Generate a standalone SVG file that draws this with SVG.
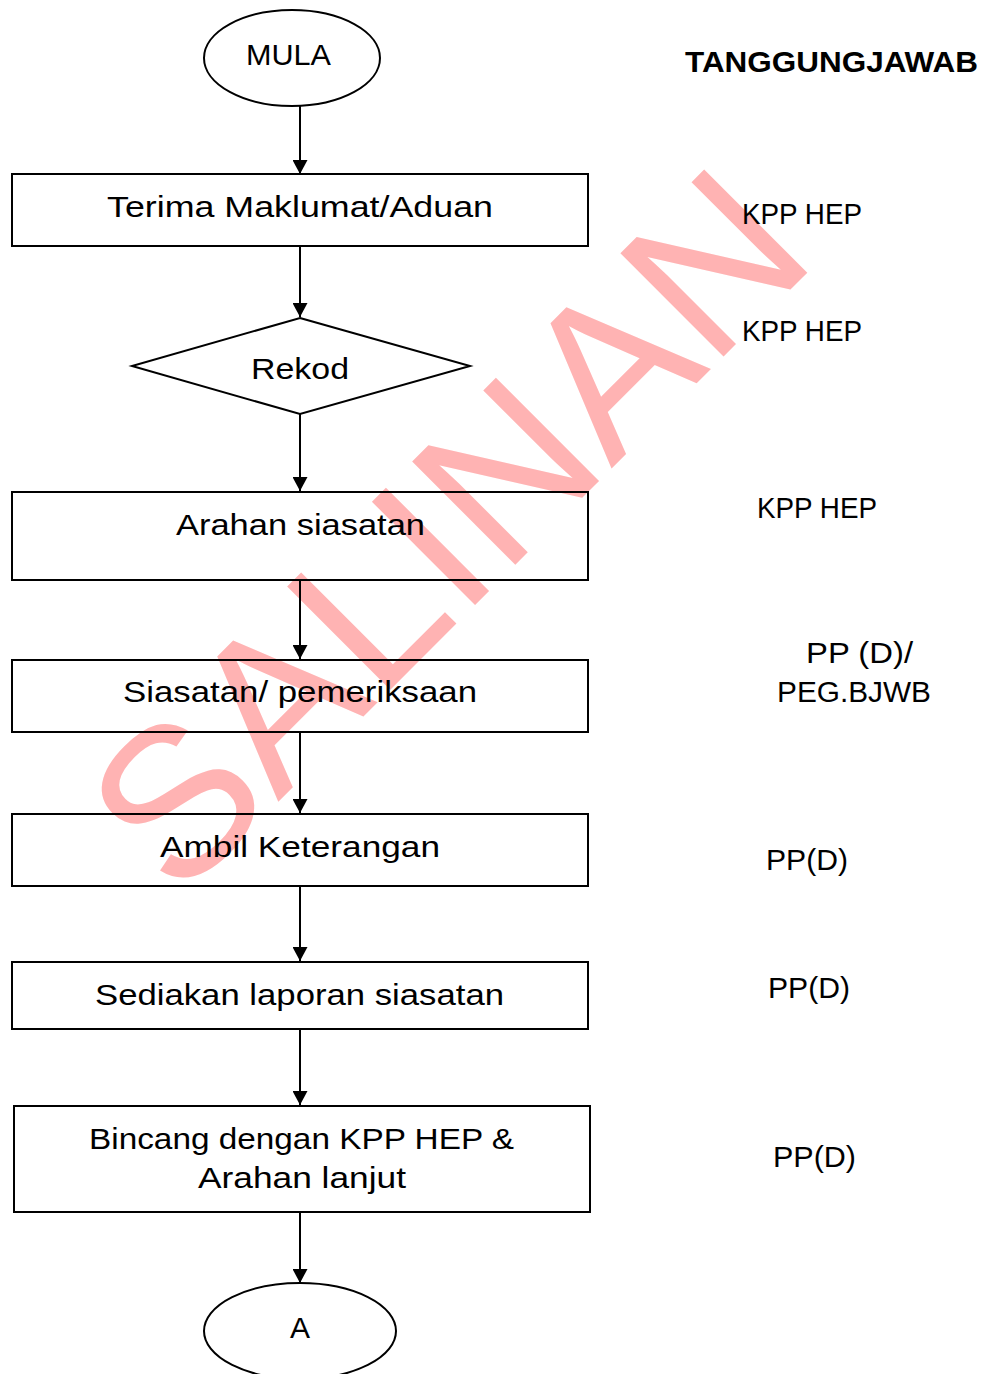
<svg xmlns="http://www.w3.org/2000/svg" width="984" height="1374" viewBox="0 0 984 1374">
<style>
.shape{fill:none;stroke:#000;stroke-width:2}
.lbl{font-family:"Liberation Sans",Arial,sans-serif;font-size:30px;fill:#000}
.c{text-anchor:middle}
.hdr{font-family:"Liberation Sans",Arial,sans-serif;font-size:30px;font-weight:bold;fill:#000}
.wm{font-family:"Liberation Sans",Arial,sans-serif;font-size:212px;fill:#FFB3B3}
.conn{stroke:#000;stroke-width:2;fill:none}
</style>
<defs>
<marker id="arr" markerUnits="userSpaceOnUse" markerWidth="15" markerHeight="15" refX="14" refY="7.5" orient="auto">
<path d="M0,0 L14,7.5 L0,15 z" fill="#000"/>
</marker>
</defs>
<rect width="984" height="1374" fill="#fff"/>
<text class="wm" transform="translate(178,902) rotate(-45)" x="0" y="0">SALINAN</text>

<g id="connectors">
<line class="conn" x1="300" y1="106" x2="300" y2="174" marker-end="url(#arr)"/>
<line class="conn" x1="300" y1="246" x2="300" y2="317" marker-end="url(#arr)"/>
<line class="conn" x1="300" y1="414" x2="300" y2="491" marker-end="url(#arr)"/>
<line class="conn" x1="300" y1="580" x2="300" y2="659" marker-end="url(#arr)"/>
<line class="conn" x1="300" y1="732" x2="300" y2="813" marker-end="url(#arr)"/>
<line class="conn" x1="300" y1="886" x2="300" y2="961" marker-end="url(#arr)"/>
<line class="conn" x1="300" y1="1029" x2="300" y2="1105" marker-end="url(#arr)"/>
<line class="conn" x1="300" y1="1212" x2="300" y2="1283" marker-end="url(#arr)"/>
</g>

<g id="mula">
<ellipse class="shape" cx="292" cy="58" rx="88" ry="48"/>
<text class="lbl" x="246" y="65" textLength="85" lengthAdjust="spacingAndGlyphs">MULA</text>
</g>
<g id="terima">
<rect class="shape" x="12" y="174" width="576" height="72"/>
<text class="lbl" x="107" y="217" textLength="386" lengthAdjust="spacingAndGlyphs">Terima Maklumat/Aduan</text>
</g>
<g id="rekod">
<polygon class="shape" points="300,318 470,366 300,414 132,366"/>
<text class="lbl" x="251" y="379" textLength="98" lengthAdjust="spacingAndGlyphs">Rekod</text>
</g>
<g id="arahan">
<rect class="shape" x="12" y="492" width="576" height="88"/>
<text class="lbl" x="176" y="535" textLength="249" lengthAdjust="spacingAndGlyphs">Arahan siasatan</text>
</g>
<g id="siasatan">
<rect class="shape" x="12" y="660" width="576" height="72"/>
<text class="lbl" x="123" y="702" textLength="354" lengthAdjust="spacingAndGlyphs">Siasatan/ pemeriksaan</text>
</g>
<g id="ambil">
<rect class="shape" x="12" y="814" width="576" height="72"/>
<text class="lbl" x="160" y="857" textLength="280" lengthAdjust="spacingAndGlyphs">Ambil Keterangan</text>
</g>
<g id="sediakan">
<rect class="shape" x="12" y="962" width="576" height="67"/>
<text class="lbl" x="95" y="1005" textLength="409" lengthAdjust="spacingAndGlyphs">Sediakan laporan siasatan</text>
</g>
<g id="bincang">
<rect class="shape" x="14" y="1106" width="576" height="106"/>
<text class="lbl" x="89" y="1149" textLength="425" lengthAdjust="spacingAndGlyphs">Bincang dengan KPP HEP &amp;</text>
<text class="lbl" x="198" y="1188" textLength="208" lengthAdjust="spacingAndGlyphs">Arahan lanjut</text>
</g>
<g id="a">
<ellipse class="shape" cx="300" cy="1331" rx="96" ry="48"/>
<text class="lbl c" x="300" y="1338">A</text>
</g>

<g id="tanggungjawab">
<text class="hdr" x="685" y="72" textLength="293" lengthAdjust="spacingAndGlyphs">TANGGUNGJAWAB</text>
<text class="lbl" x="742" y="224" textLength="120" lengthAdjust="spacingAndGlyphs">KPP HEP</text>
<text class="lbl" x="742" y="341" textLength="120" lengthAdjust="spacingAndGlyphs">KPP HEP</text>
<text class="lbl" x="757" y="518" textLength="120" lengthAdjust="spacingAndGlyphs">KPP HEP</text>
<text class="lbl" x="806" y="663" textLength="107" lengthAdjust="spacingAndGlyphs">PP (D)/</text>
<text class="lbl" x="777" y="702" textLength="154" lengthAdjust="spacingAndGlyphs">PEG.BJWB</text>
<text class="lbl" x="766" y="870" textLength="82" lengthAdjust="spacingAndGlyphs">PP(D)</text>
<text class="lbl" x="768" y="998" textLength="82" lengthAdjust="spacingAndGlyphs">PP(D)</text>
<text class="lbl" x="773" y="1167" textLength="83" lengthAdjust="spacingAndGlyphs">PP(D)</text>
</g>
</svg>
